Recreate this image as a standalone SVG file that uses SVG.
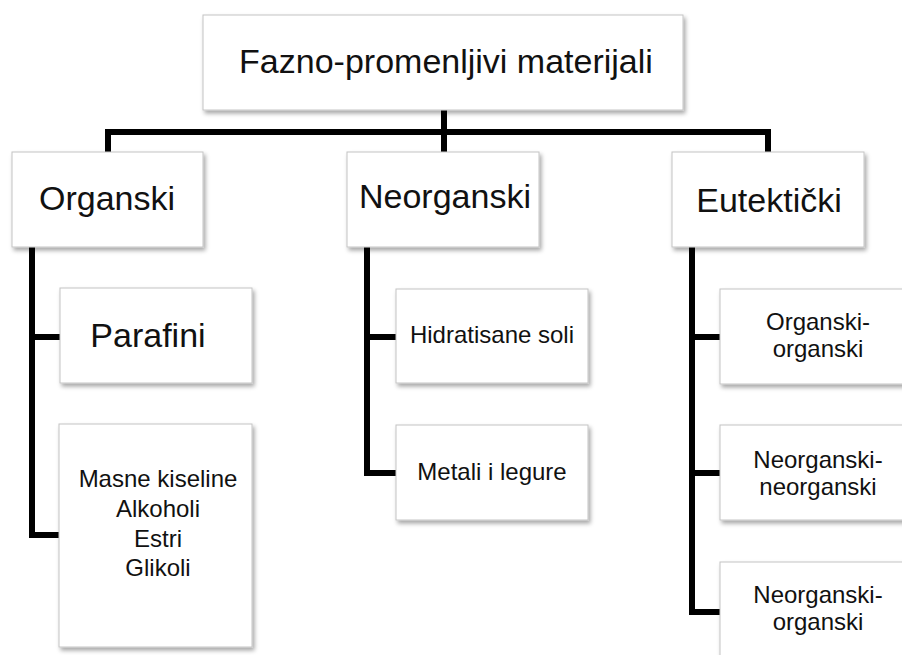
<svg xmlns="http://www.w3.org/2000/svg" width="902" height="655" viewBox="0 0 902 655">
<defs>
<filter id="sh" x="-10%" y="-10%" width="130%" height="130%">
<feDropShadow dx="2" dy="3" stdDeviation="2" flood-color="#000" flood-opacity="0.35"/>
</filter>
</defs>
<style>
.box{fill:#fff;stroke:#c4c4c4;stroke-width:1;filter:url(#sh)}
.t{font-family:"Liberation Sans",Arial,sans-serif;fill:#111;text-anchor:middle}
.big{font-size:34px}
.sm{font-size:24px}
.c{fill:none;stroke:#000;stroke-width:6;stroke-linejoin:miter;stroke-linecap:butt}
</style>
<rect width="902" height="655" fill="#fff"/>
<g id="connectors">
<path class="c" d="M444,110 V152"/>
<path class="c" d="M108,152 V132 H768 V152"/>
<path class="c" d="M32,247 V535 H59 M32,337 H60"/>
<path class="c" d="M367,247 V473 H396 M367,337 H396"/>
<path class="c" d="M692,247 V612 H720 M692,337 H720 M692,473 H720"/>
</g>
<g id="root"><rect class="box" x="203" y="15" width="480" height="95"/><text class="t big" x="446" y="73">Fazno-promenljivi materijali</text></g>
<g id="organski"><rect class="box" x="12" y="152" width="191" height="95"/><text class="t big" x="107" y="210">Organski</text></g>
<g id="neorganski"><rect class="box" x="347" y="152" width="192" height="95"/><text class="t big" x="445" y="208">Neorganski</text></g>
<g id="eutekticki"><rect class="box" x="672" y="152" width="192" height="95"/><text class="t big" x="769" y="212">Eutektički</text></g>
<g id="parafini"><rect class="box" x="60" y="288" width="192" height="95"/><text class="t big" x="148" y="347">Parafini</text></g>
<g id="masne"><rect class="box" x="59" y="424" width="193" height="223"/><text class="t sm" x="158" y="487">Masne kiseline</text><text class="t sm" x="158" y="517">Alkoholi</text><text class="t sm" x="158" y="547">Estri</text><text class="t sm" x="158" y="576">Glikoli</text></g>
<g id="hidratisane"><rect class="box" x="396" y="289" width="192" height="94"/><text class="t sm" x="492" y="343">Hidratisane soli</text></g>
<g id="metali"><rect class="box" x="396" y="425" width="192" height="95"/><text class="t sm" x="492" y="480">Metali i legure</text></g>
<g id="org-org"><rect class="box" x="720" y="289" width="194" height="95"/><text class="t sm" x="818" y="330">Organski-</text><text class="t sm" x="818" y="357">organski</text></g>
<g id="neo-neo"><rect class="box" x="720" y="425" width="194" height="95"/><text class="t sm" x="818" y="468">Neorganski-</text><text class="t sm" x="818" y="495">neorganski</text></g>
<g id="neo-org"><rect class="box" x="720" y="562" width="194" height="100"/><text class="t sm" x="818" y="603">Neorganski-</text><text class="t sm" x="818" y="630">organski</text></g>
</svg>
